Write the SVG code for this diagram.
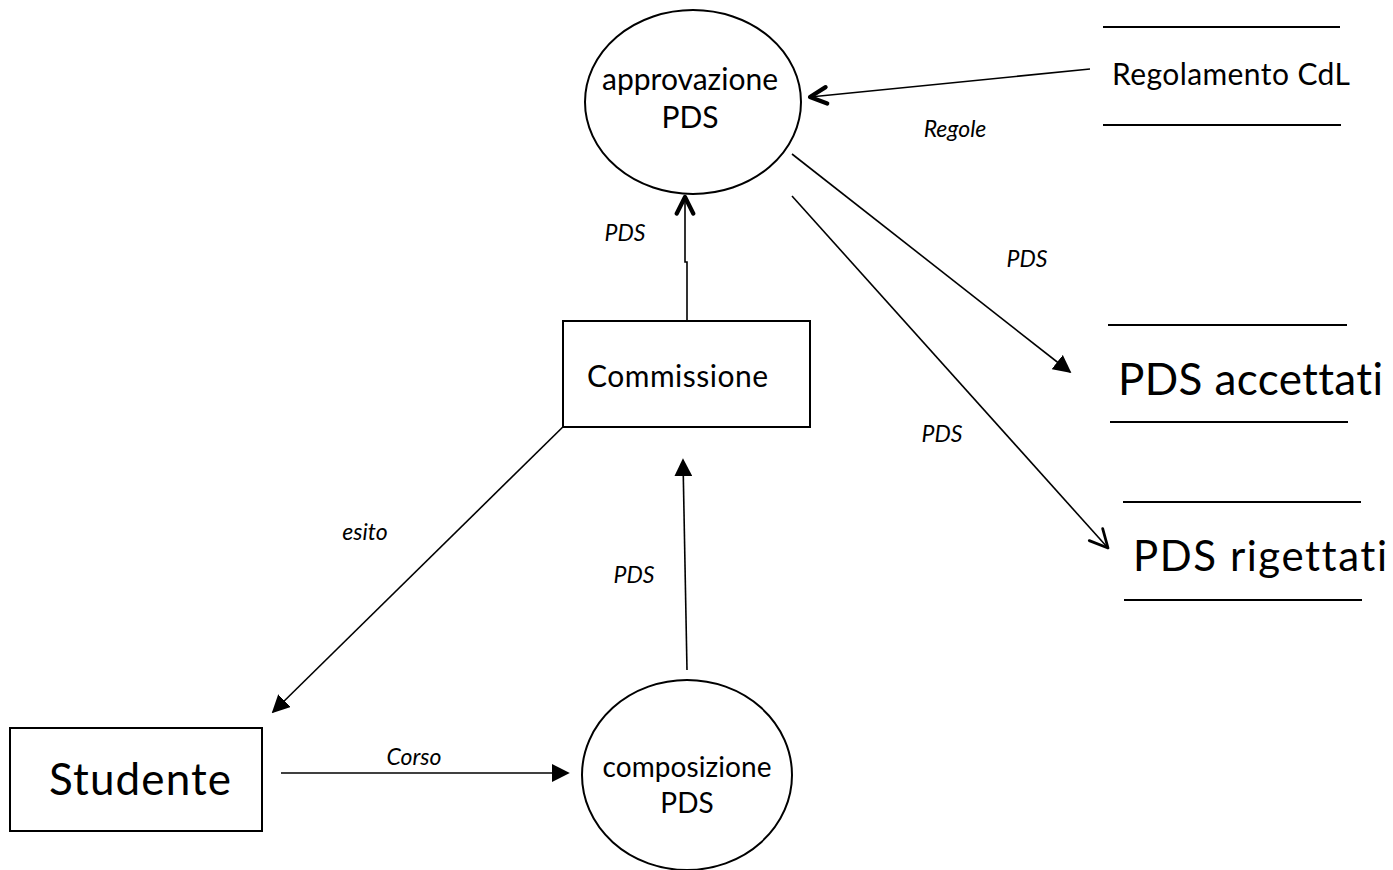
<svg xmlns="http://www.w3.org/2000/svg" width="1393" height="870" viewBox="0 0 1393 870">
  <style>
    .shape { fill: #ffffff; stroke: #000000; stroke-width: 2; }
    .flow { fill: none; stroke: #000000; stroke-width: 1.6; }
    .store { stroke: #000000; stroke-width: 1.8; }
    .label { font-family: Lato, "Open Sans", "Liberation Sans", sans-serif; fill: #000000; font-variant-ligatures: none; font-feature-settings: "liga" 0, "clig" 0; }
    .flowlabel { font-family: Lato, "Open Sans", "Liberation Sans", sans-serif; font-style: italic; font-size: 23px; fill: #000000; }
  </style>
  <defs>
    <marker id="solidBig" viewBox="0 0 10 10" refX="9" refY="5" markerWidth="18" markerHeight="18" markerUnits="userSpaceOnUse" orient="auto">
      <path d="M0,0 L10,5 L0,10 Z" fill="#000000"/>
    </marker>
    <marker id="open" viewBox="0 0 12 12" refX="10.5" refY="6" markerWidth="22" markerHeight="22" markerUnits="userSpaceOnUse" orient="auto">
      <path d="M1.5,1.5 L10.5,6 L1.5,10.5" fill="none" stroke="#000000" stroke-width="2.3" stroke-linecap="round" stroke-linejoin="round"/>
    </marker>
    <marker id="openThin" viewBox="0 0 12 12" refX="10.5" refY="6" markerWidth="24" markerHeight="24" markerUnits="userSpaceOnUse" orient="auto">
      <path d="M1.5,1.5 L10.5,6 L1.5,10.5" fill="none" stroke="#000000" stroke-width="1.4" stroke-linecap="round" stroke-linejoin="round"/>
    </marker>
  </defs>

  <rect width="1393" height="870" fill="#ffffff"/>

  <!-- data flows -->
  <g id="connectors">
    <line class="flow" x1="1090" y1="69" x2="810" y2="97" marker-end="url(#open)"/>
    <line class="flow" x1="792" y1="154" x2="1070" y2="372" marker-end="url(#solidBig)"/>
    <line class="flow" x1="792" y1="196" x2="1108" y2="548" marker-end="url(#openThin)"/>
    <path class="flow" d="M687,320 V262 H685 V197" marker-end="url(#open)"/>
    <line class="flow" x1="572" y1="418" x2="273" y2="712" marker-end="url(#solidBig)"/>
    <line class="flow" x1="687" y1="670" x2="683" y2="460" marker-end="url(#solidBig)"/>
    <line class="flow" x1="281" y1="773" x2="568" y2="773" marker-end="url(#solidBig)"/>

    <text class="flowlabel" x="955" y="137" text-anchor="middle">Regole</text>
    <text class="flowlabel" x="625" y="241" text-anchor="middle">PDS</text>
    <text class="flowlabel" x="1027" y="267" text-anchor="middle">PDS</text>
    <text class="flowlabel" x="942" y="442" text-anchor="middle">PDS</text>
    <text class="flowlabel" x="365" y="540" text-anchor="middle">esito</text>
    <text class="flowlabel" x="634" y="583" text-anchor="middle">PDS</text>
    <text class="flowlabel" x="414" y="765" text-anchor="middle">Corso</text>
  </g>

  <!-- process: approvazione PDS -->
  <g id="approvazione">
    <ellipse class="shape" cx="693" cy="102" rx="108" ry="92"/>
    <text class="label" x="690" y="90" font-size="30" text-anchor="middle" textLength="176">approvazione</text>
    <text class="label" x="690" y="128" font-size="30" text-anchor="middle">PDS</text>
  </g>

  <!-- data store: Regolamento CdL -->
  <g id="regolamento">
    <line class="store" x1="1103" y1="27" x2="1340" y2="27"/>
    <line class="store" x1="1103" y1="125" x2="1341" y2="125"/>
    <text class="label" x="1112" y="85" font-size="30" textLength="238">Regolamento CdL</text>
  </g>

  <!-- external entity: Commissione -->
  <g id="commissione">
    <rect class="shape" x="563" y="321" width="247" height="106"/>
    <text class="label" x="587" y="387" font-size="30" textLength="181">Commissione</text>
  </g>

  <!-- data store: PDS accettati -->
  <g id="accettati">
    <line class="store" x1="1108" y1="325" x2="1347" y2="325"/>
    <line class="store" x1="1110" y1="422" x2="1348" y2="422"/>
    <text class="label" x="1118" y="395" font-size="44" textLength="265">PDS accettati</text>
  </g>

  <!-- data store: PDS rigettati -->
  <g id="rigettati">
    <line class="store" x1="1123" y1="502" x2="1361" y2="502"/>
    <line class="store" x1="1124" y1="600" x2="1362" y2="600"/>
    <text class="label" x="1133" y="571" font-size="42" textLength="254">PDS rigettati</text>
  </g>

  <!-- external entity: Studente -->
  <g id="studente">
    <rect class="shape" x="10" y="728" width="252" height="103"/>
    <text class="label" x="49" y="795" font-size="44" textLength="182">Studente</text>
  </g>

  <!-- process: composizione PDS -->
  <g id="composizione">
    <ellipse class="shape" cx="687" cy="775" rx="105" ry="95"/>
    <text class="label" x="687" y="777" font-size="28" text-anchor="middle" textLength="169">composizione</text>
    <text class="label" x="687" y="813" font-size="28" text-anchor="middle">PDS</text>
  </g>
</svg>
